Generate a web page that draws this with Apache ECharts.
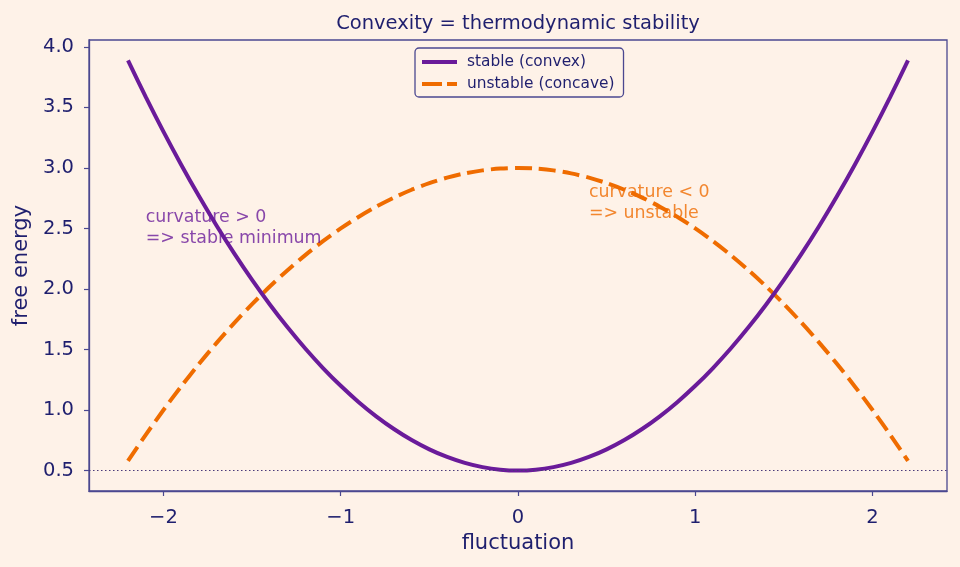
<!DOCTYPE html>
<html>
<head>
<meta charset="utf-8">
<script src="https://cdn.jsdelivr.net/npm/echarts@6/dist/echarts.min.js"></script>
<style>
html,body{margin:0;padding:0;background:#fef2e8;}
#c{width:960px;height:567px;}
</style>
</head>
<body>
<div id="c"></div>
<script>
// Data
const xValues = [-2.2,-2.1,-2.0,-1.9,-1.8,-1.7,-1.6,-1.5,-1.4,-1.3,-1.2,-1.1,-1.0,-0.9,-0.8,-0.7,-0.6,-0.5,-0.4,-0.3,-0.2,-0.1,0.0,
                 0.1,0.2,0.3,0.4,0.5,0.6,0.7,0.8,0.9,1.0,1.1,1.2,1.3,1.4,1.5,1.6,1.7,1.8,1.9,2.0,2.1,2.2];
const stableValues = [3.888,3.587,3.300,3.027,2.768,2.523,2.292,2.075,1.872,1.683,1.508,1.347,1.200,1.067,0.948,0.843,0.752,0.675,0.612,0.563,0.528,0.507,0.500,
                      0.507,0.528,0.563,0.612,0.675,0.752,0.843,0.948,1.067,1.200,1.347,1.508,1.683,1.872,2.075,2.292,2.523,2.768,3.027,3.300,3.587,3.888];
const unstableValues = [0.580,0.795,1.000,1.195,1.380,1.555,1.720,1.875,2.020,2.155,2.280,2.395,2.500,2.595,2.680,2.755,2.820,2.875,2.920,2.955,2.980,2.995,3.000,
                        2.995,2.980,2.955,2.920,2.875,2.820,2.755,2.680,2.595,2.500,2.395,2.280,2.155,2.020,1.875,1.720,1.555,1.380,1.195,1.000,0.795,0.580];
const xTicks = [-2,-1,0,1,2];
const yTicks = [0.5,1.0,1.5,2.0,2.5,3.0,3.5,4.0];
const baselineValue = 0.5;
const stableNote = {x:-2.1, y:2.4, text:'curvature > 0\n=> stable minimum'};
const unstableNote = {x:0.4, y:2.6, text:'curvature < 0\n=> unstable'};

const TEXT = '#1f1f6e';
const SPINE = '#4b4890';
const PURPLE = '#6a1b9a';
const ORANGE = '#ef6c00';
const FONT = 'DejaVu Sans';
const BG = '#fef2e8';

const chart = echarts.init(document.getElementById('c'), null, {renderer:'canvas'});
const fmtX = v => (v < 0 ? '\u2212' + Math.abs(v) : String(v));

chart.setOption({
  backgroundColor:BG,
  animation:false,
  textStyle:{fontFamily:FONT},
  title:{text:'Convexity = thermodynamic stability', left:513, textAlign:'center', top:9,
    textStyle:{color:TEXT, fontSize:19.5, fontWeight:'normal', fontFamily:FONT}},
  legend:{
    orient:'vertical', left:415, top:48,
    padding:[5,9,4,5], itemGap:4,
    borderColor:SPINE, borderWidth:1.3, borderRadius:4,
    backgroundColor:BG,
    itemWidth:35, itemHeight:14,
    itemStyle:{color:'transparent', borderColor:'transparent', borderWidth:0},
    textStyle:{color:TEXT, fontSize:15.4, lineHeight:18, fontFamily:FONT, padding:[0,0,0,5]},
    data:[
      {name:'stable (convex)', lineStyle:{width:4, color:PURPLE}},
      {name:'unstable (concave)', lineStyle:{width:4, color:ORANGE, type:[20,5]}}
    ]
  },
  grid:{left:89, right:13, top:40, bottom:76, outerBoundsMode:'none', containLabel:false,
    show:true, borderColor:SPINE, borderWidth:1.3, backgroundColor:'transparent'},
  xAxis:{
    type:'value', min:-2.42, max:2.42,
    name:'fluctuation', nameLocation:'middle', nameGap:42,
    nameTextStyle:{color:TEXT, fontSize:21, fontFamily:FONT},
    axisLine:{show:true, onZero:false, lineStyle:{color:SPINE, width:1.3}},
    axisTick:{show:true, inside:false, length:5, lineStyle:{color:SPINE, width:1.2}, customValues:xTicks},
    axisLabel:{color:TEXT, fontSize:19.5, margin:17, fontFamily:FONT, customValues:xTicks, formatter:fmtX},
    splitLine:{show:false}
  },
  yAxis:{
    type:'value', min:0.331, max:4.057,
    name:'free energy', nameLocation:'middle', nameGap:56,
    nameTextStyle:{color:TEXT, fontSize:21, fontFamily:FONT},
    axisLine:{show:true, onZero:false, lineStyle:{color:SPINE, width:1.3}},
    axisTick:{show:true, inside:false, length:5, lineStyle:{color:SPINE, width:1.2}, customValues:yTicks},
    axisLabel:{color:TEXT, fontSize:19.5, margin:15, fontFamily:FONT, customValues:yTicks, formatter:v => v.toFixed(1)},
    splitLine:{show:false}
  },
  series:[
    {
      name:'stable (convex)', type:'line', symbol:'none', smooth:0.3,
      data:xValues.map((x,i)=>[x, stableValues[i]]),
      lineStyle:{color:PURPLE, width:4}, itemStyle:{color:PURPLE}, z:3,
      markLine:{silent:true, symbol:'none', label:{show:false},
        lineStyle:{color:'#4a3a7a', width:1.1, type:[1.5,2.5]},
        data:[{yAxis:baselineValue}]}
    },
    {
      name:'unstable (concave)', type:'line', symbol:'none', smooth:0.3,
      data:xValues.map((x,i)=>[x, unstableValues[i]]),
      lineStyle:{color:ORANGE, width:4, type:[17,7]}, itemStyle:{color:ORANGE}, z:2
    },
    {
      type:'scatter', symbolSize:0, silent:true, z:5,
      data:[[stableNote.x, stableNote.y]],
      label:{show:true, position:[0,0], align:'left', verticalAlign:'bottom', offset:[0,8],
        formatter:stableNote.text, color:PURPLE, fontSize:17.4, lineHeight:20.5, fontFamily:FONT}
    },
    {
      type:'scatter', symbolSize:0, silent:true, z:5,
      data:[[unstableNote.x, unstableNote.y]],
      label:{show:true, position:[0,0], align:'left', verticalAlign:'bottom', offset:[0,7],
        formatter:unstableNote.text, color:ORANGE, fontSize:17.4, lineHeight:20.5, fontFamily:FONT}
    }
  ]
});
</script>
</body>
</html>
